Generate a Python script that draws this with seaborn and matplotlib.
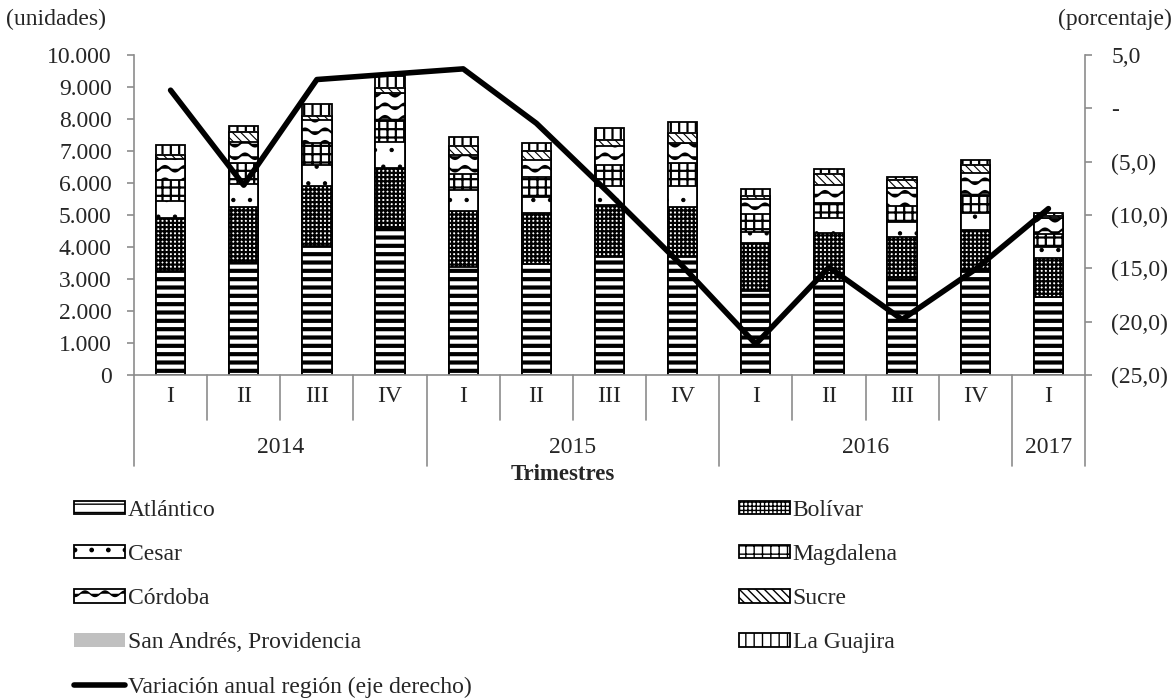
import numpy as np
import pandas as pd
import matplotlib
matplotlib.use("Agg")
import matplotlib.pyplot as plt
import matplotlib.hatch as mhatch
import matplotlib.patches as mpatches
from matplotlib.lines import Line2D
from matplotlib.path import Path
from matplotlib.ticker import FuncFormatter
import seaborn as sns

# ---------------- data ----------------
quarters = ["I", "II", "III", "IV", "I", "II", "III", "IV", "I", "II", "III", "IV", "I"]
years = ["2014", "2014", "2014", "2014", "2015", "2015", "2015", "2015",
         "2016", "2016", "2016", "2016", "2017"]
atlantico = [3250, 3540, 4040, 4640, 3390, 3470, 3680, 3680, 2630, 2950, 2990, 3300, 2430]
bolivar = [1650, 1720, 1880, 1820, 1750, 1580, 1630, 1580, 1510, 1480, 1330, 1230, 1220]
cesar = [540, 710, 640, 830, 640, 520, 610, 660, 320, 470, 470, 540, 360]
magdalena = [650, 670, 700, 680, 500, 610, 640, 690, 570, 490, 490, 550, 400]
cordoba = [650, 650, 710, 830, 600, 540, 600, 630, 460, 550, 550, 680, 490]
sucre = [140, 310, 120, 160, 280, 280, 180, 310, 100, 330, 260, 260, 70]
san_andres = [30, 30, 30, 30, 30, 30, 30, 30, 30, 30, 30, 30, 30]
la_guajira = [285, 150, 340, 350, 240, 210, 360, 340, 190, 130, 70, 130, 50]
variacion = [1.7, -7.2, 2.7, 3.2, 3.7, -1.4, -8.0, -14.8, -22.1, -14.9, -19.8, -15.1, -9.4]

series_names = ["Atlántico", "Bolívar", "Cesar", "Magdalena", "Córdoba", "Sucre",
                "San Andrés, Providencia", "La Guajira"]
series_vals = [atlantico, bolivar, cesar, magdalena, cordoba, sucre, san_andres, la_guajira]

# ---------------- custom wave hatch (replaces 'O') ----------------
class _Waves(mhatch.HatchPatternBase):
    def __init__(self, hatch, density):
        self.num_rows = int(hatch.count('O') * density * 4 / 3)
        self.n_pts = 61
        self.num_vertices = self.num_rows * self.n_pts

    def set_vertices_and_codes(self, vertices, codes):
        t = np.linspace(0, 1, self.n_pts)
        for i in range(self.num_rows):
            y0 = (i + 0.5) / self.num_rows
            sl = slice(i * self.n_pts, (i + 1) * self.n_pts)
            vertices[sl, 0] = t
            vertices[sl, 1] = y0 + 0.028 * np.sin(2 * np.pi * 5 * t)
            codes[sl] = Path.LINETO
            codes[i * self.n_pts] = Path.MOVETO

mhatch._hatch_types = [(_Waves if h is mhatch.LargeCircles else h) for h in mhatch._hatch_types]

# ---------------- style ----------------
sns.set_theme(style="white")
plt.rcParams['font.family'] = ['Liberation Serif', 'DejaVu Serif']
plt.rcParams['hatch.linewidth'] = 1.0
FS = 17
GRAY = "#8c8c8c"

styles = {
    "Atlántico": dict(hatch="--", hlw=3.0, fc="white"),
    "Bolívar": dict(hatch="++++", hlw=1.6, fc="white"),
    "Cesar": dict(hatch=".", hlw=0.7, fc="white"),
    "Magdalena": dict(hatch="++", hlw=1.6, fc="white"),
    "Córdoba": dict(hatch="O", hlw=1.5, fc="white"),
    "Sucre": dict(hatch="\\\\\\\\", hlw=0.8, fc="white"),
    "San Andrés, Providencia": dict(hatch=None, hlw=1.0, fc="#c0c0c0"),
    "La Guajira": dict(hatch="||", hlw=1.6, fc="white"),
}

fig = plt.figure(figsize=(11.75, 6.98), dpi=100)
ax = fig.add_axes([134 / 1175, 1 - 375 / 698, 951 / 1175, 320 / 698])

keys = [f"{y}-{q}" for y, q in zip(years, quarters)]
cum = np.cumsum(np.array(series_vals, dtype=float), axis=0)

# draw from the tallest (total) down so lower layers overlay
for idx in range(len(series_names) - 1, -1, -1):
    name = series_names[idx]
    st = styles[name]
    df = pd.DataFrame({"q": keys, "v": cum[idx]})
    n_before = len(ax.patches)
    sns.barplot(data=df, x="q", y="v", ax=ax, color=st["fc"], width=0.4,
                edgecolor="black" if st["hatch"] else st["fc"],
                linewidth=1.3 if st["hatch"] else 0,
                hatch=st["hatch"], errorbar=None, saturation=1)
    for p in ax.patches[n_before:]:
        p.set_facecolor(st["fc"])
        if hasattr(p, "set_hatch_linewidth"):
            p.set_hatch_linewidth(st["hlw"])

ax.set_xlim(-0.5, len(keys) - 0.5)
ax.set_ylim(0, 10000)
ax.set_yticks(np.arange(0, 10001, 1000))
ax.yaxis.set_major_formatter(FuncFormatter(lambda v, p: f"{int(v):,}".replace(",", ".")))
ax.set_xlabel("")
ax.set_ylabel("")
ax.set_xticks([])
for s in ["top", "right"]:
    ax.spines[s].set_visible(False)
for s in ["left", "bottom"]:
    ax.spines[s].set_color(GRAY)
    ax.spines[s].set_linewidth(1.2)
ax.tick_params(axis="y", direction="out", length=5, color=GRAY, width=1.2,
               labelsize=FS, pad=11, left=True)

# line on secondary axis
ax2 = ax.twinx()
sns.lineplot(x=np.arange(len(keys)), y=variacion, ax=ax2, color="black", linewidth=4.0)
ax2.set_ylim(-25, 5)
ax2.set_yticks(np.arange(-25, 6, 5))

def pct_fmt(v, p):
    if abs(v) < 1e-9:
        return "-"
    if v < 0:
        return f"({abs(v):.1f})".replace(".", ",")
    return f"{v:.1f}".replace(".", ",")

ax2.yaxis.set_major_formatter(FuncFormatter(pct_fmt))
ax2.set_xlim(-0.5, len(keys) - 0.5)
for s in ["top", "left", "bottom"]:
    ax2.spines[s].set_visible(False)
ax2.spines["right"].set_color(GRAY)
ax2.spines["right"].set_linewidth(1.2)
ax2.tick_params(axis="y", direction="out", length=5, color=GRAY, width=1.2,
                labelsize=FS, pad=14, right=True)
for lbl in ax2.get_yticklabels():
    lbl.set_horizontalalignment("left")
ax2.set_ylabel("")

# multi-level x axis
tr = ax.get_xaxis_transform()
n = len(keys)
for i in range(n + 1):
    xpos = i - 0.5
    is_year_edge = (i == 0) or (i == n) or (years[i] != years[i - 1])
    y_end = -0.283 if is_year_edge else -0.142
    ax.plot([xpos, xpos], [0, y_end], transform=tr, color=GRAY, lw=1.2, clip_on=False)
for i, q in enumerate(quarters):
    ax.text(i, -0.068, q, transform=tr, ha="center", va="center", fontsize=FS)
uniq_years = list(dict.fromkeys(years))
for y in uniq_years:
    idxs = [i for i, yy in enumerate(years) if yy == y]
    ax.text(np.mean(idxs), -0.228, y, transform=tr, ha="center", va="center", fontsize=FS)

fig.text(563 / 1175, 1 - 474 / 698, "Trimestres", ha="center", va="center",
         fontsize=FS - 0.5, fontweight="bold")
fig.text(6 / 1175, 1 - 19 / 698, "(unidades)", ha="left", va="center", fontsize=FS)
fig.text(1172 / 1175, 1 - 19 / 698, "(porcentaje)", ha="right", va="center", fontsize=FS)

# legend (two columns)
def make_handle(name):
    st = styles[name]
    h = mpatches.Patch(facecolor=st["fc"], edgecolor="black" if st["hatch"] else st["fc"],
                       hatch=st["hatch"], linewidth=1.3 if st["hatch"] else 0, label=name)
    if hasattr(h, "set_hatch_linewidth"):
        h.set_hatch_linewidth(st["hlw"])
    return h

left_names = ["Atlántico", "Cesar", "Córdoba", "San Andrés, Providencia"]
right_names = ["Bolívar", "Magdalena", "Sucre", "La Guajira"]
left_handles = [make_handle(nm) for nm in left_names]
left_handles.append(Line2D([0], [0], color="black", lw=4.0,
                           label="Variación anual región (eje derecho)"))
right_handles = [make_handle(nm) for nm in right_names]

common = dict(frameon=False, fontsize=FS, handlelength=2.15, handleheight=0.5,
              handletextpad=0.13, labelspacing=0.98, borderaxespad=0, borderpad=0,
              loc="upper left")
fig.legend(handles=left_handles, bbox_to_anchor=(74 / 1175, 1 - 500 / 698), **common)
fig.legend(handles=right_handles, bbox_to_anchor=(739 / 1175, 1 - 500 / 698), **common)

fig.savefig("out.png", dpi=100)
